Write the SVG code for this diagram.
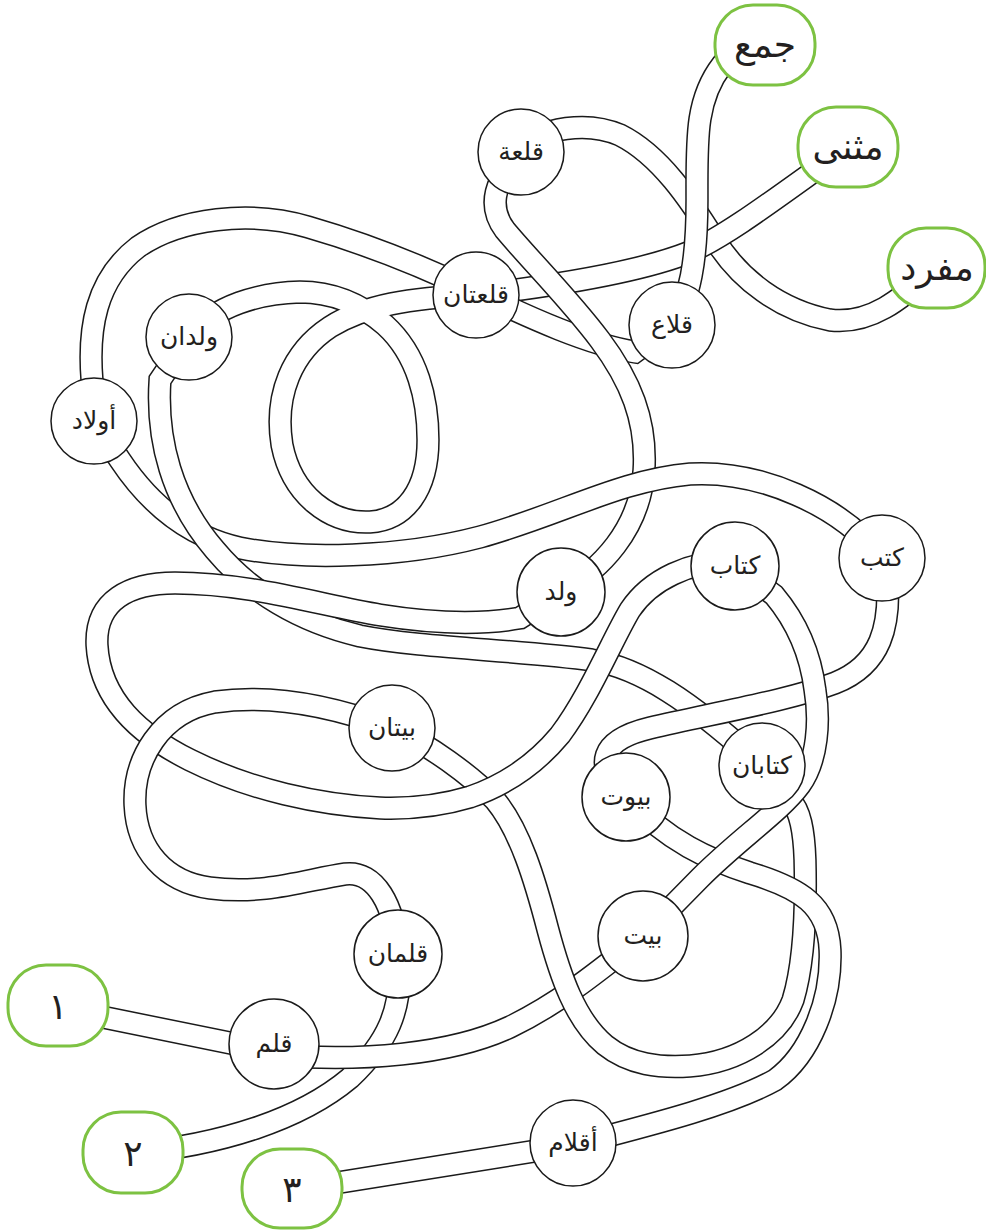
<svg xmlns="http://www.w3.org/2000/svg" xmlns:xlink="http://www.w3.org/1999/xlink" width="986" height="1230" viewBox="0 0 986 1230">
<style>
.o{fill:none;stroke:#1a1a1a;stroke-width:23.5}
.i{fill:none;stroke:#fff;stroke-width:20.5}
.n circle{fill:#fff;stroke:#1a1a1a;stroke-width:1.5}
.n text,.g text{font-family:'DejaVu Sans',sans-serif;font-size:25px;text-anchor:middle;fill:#231f20}
.g rect{fill:#fff;stroke:#7dc242;stroke-width:3}
.g text{font-size:36px}
</style>
<defs>
<path id="S1" d="M58,1008 L274,1052"/>
<path id="S2" d="M274,1055 C360,1062 450,1055 510,1027 C560,1003 600,970 643,936"/>
<path id="S3" d="M643,936 L700,878 C740,838 780,812 800,785 C818,760 820,720 815,690 C810,650 795,620 774,595 L735,566"/>
<path id="S4" d="M735,562 C690,560 650,580 630,610 C612,640 590,695 560,735 C535,765 505,785 470,797 C440,806 410,809 380,808 C320,805 250,790 190,760 C140,735 100,700 97,645 C95,600 130,583 175,583 C250,583 320,605 380,615 C430,623 480,625 520,618 L561,592"/>
<path id="S5" d="M561,592 C600,570 640,530 644,470 C647,420 630,380 600,340 C570,300 530,260 505,230 C490,210 490,185 521,152"/>
<path id="S6" d="M521,152 C540,125 590,122 620,135 C660,155 690,200 715,240 C740,280 780,310 830,320 C870,325 900,300 937,268"/>
<path id="D1" d="M133,1153 C220,1145 300,1120 350,1078 C385,1045 405,1010 398,954"/>
<path id="D2" d="M398,954 C395,905 375,870 345,874 C305,880 265,895 210,888 C165,882 137,850 135,805 C133,760 160,712 215,702 C270,694 330,705 392,728"/>
<path id="D3" d="M392,728 C430,745 470,775 495,800 C520,830 535,880 548,930 C560,975 575,1020 605,1045 C630,1065 660,1068 690,1066 C740,1062 780,1035 793,1000 C805,960 806,900 805,860 C804,830 800,810 790,800 L762,766"/>
<path id="D4" d="M189,337 L160,380 C156,440 172,500 215,550 C250,592 300,622 360,636 C420,648 520,650 592,660 C640,668 690,700 762,766"/>
<path id="D5" d="M189,337 C215,305 260,293 300,292 C335,292 362,305 385,325 C418,355 428,400 428,440 C428,490 405,520 370,522 C330,524 292,495 282,445 C274,395 292,352 330,327 C365,305 410,298 476,295"/>
<path id="D6" d="M476,295 C560,285 640,272 690,252 C730,234 780,195 848,147"/>
<path id="P1" d="M292,1190 L573,1145"/>
<path id="P2" d="M573,1145 C650,1125 730,1105 775,1080 C810,1055 832,1000 830,950 C828,905 800,888 750,873 C710,860 668,842 626,797"/>
<path id="P3" d="M626,797 C592,765 600,740 650,728 C720,712 790,700 835,683 C878,666 895,630 885,558"/>
<path id="P4" d="M882,558 C840,505 760,470 690,474 C620,480 560,515 480,537 C400,558 300,560 240,548 C190,537 150,505 120,460 L94,421"/>
<path id="P5" d="M94,421 L92,380 C88,330 95,280 138,247 C180,218 250,210 308,227 C360,242 420,265 476,292 C530,318 590,345 635,352 L672,325"/>
<path id="P6" d="M672,325 C690,300 697,260 697,200 C697,140 695,100 722,65 L765,45"/>
</defs>
<g id="connectors">
<use href="#S6" class="o"/><use href="#S6" class="i"/>
<use href="#D6" class="o"/><use href="#D6" class="i"/>
<use href="#P5" class="o"/><use href="#P5" class="i"/>
<use href="#S5" class="o"/><use href="#S5" class="i"/>
<use href="#P4" class="o"/><use href="#P4" class="i"/>
<use href="#D4" class="o"/><use href="#D4" class="i"/>
<use href="#D1" class="o"/><use href="#D1" class="i"/>
<use href="#S2" class="o"/><use href="#S2" class="i"/>
<use href="#D3" class="o"/><use href="#D3" class="i"/>
<use href="#S4" class="o"/><use href="#S4" class="i"/>
<use href="#D2" class="o"/><use href="#D2" class="i"/>
<use href="#P3" class="o"/><use href="#P3" class="i"/>
<use href="#P2" class="o"/><use href="#P2" class="i"/>
<use href="#S3" class="o"/><use href="#S3" class="i"/>
<use href="#P6" class="o"/><use href="#P6" class="i"/>
<use href="#S1" class="o"/><use href="#S1" class="i"/>
<use href="#P1" class="o"/><use href="#P1" class="i"/>
<use href="#D5" class="o"/><use href="#D5" class="i"/>
</g>
<g id="n-qalaa" class="n"><circle cx="521" cy="152" r="43"/><text x="521" y="160">قلعة</text></g>
<g id="n-qilaa" class="n"><circle cx="672" cy="325" r="43"/><text x="672" y="333">قلاع</text></g>
<g id="n-qalatan" class="n"><circle cx="476" cy="295" r="43"/><text x="476" y="303">قلعتان</text></g>
<g id="n-waladan" class="n"><circle cx="189" cy="337" r="43"/><text x="189" y="345">ولدان</text></g>
<g id="n-awlad" class="n"><circle cx="94" cy="421" r="43"/><text x="94" y="429">أولاد</text></g>
<g id="n-walad" class="n"><circle cx="561" cy="592" r="44"/><text x="561" y="600">ولد</text></g>
<g id="n-kitab" class="n"><circle cx="735" cy="566" r="44"/><text x="735" y="574">كتاب</text></g>
<g id="n-kutub" class="n"><circle cx="882" cy="558" r="43"/><text x="882" y="566">كتب</text></g>
<g id="n-baytan" class="n"><circle cx="392" cy="728" r="43"/><text x="392" y="736">بيتان</text></g>
<g id="n-kitaban" class="n"><circle cx="762" cy="766" r="43"/><text x="762" y="774">كتابان</text></g>
<g id="n-buyut" class="n"><circle cx="626" cy="797" r="44"/><text x="626" y="805">بيوت</text></g>
<g id="n-bayt" class="n"><circle cx="643" cy="936" r="45"/><text x="643" y="944">بيت</text></g>
<g id="n-qalaman" class="n"><circle cx="398" cy="954" r="44"/><text x="398" y="962">قلمان</text></g>
<g id="n-qalam" class="n"><circle cx="274" cy="1044" r="45"/><text x="274" y="1052">قلم</text></g>
<g id="n-aqlam" class="n"><circle cx="573" cy="1143" r="43"/><text x="573" y="1151">أقلام</text></g>
<g id="n-jam" class="g"><rect x="715" y="5" width="100" height="80" rx="38"/><text x="765" y="57">جمع</text></g>
<g id="n-muthanna" class="g"><rect x="798" y="107" width="100" height="80" rx="38"/><text x="848" y="159">مثنى</text></g>
<g id="n-mufrad" class="g"><rect x="888" y="228" width="97" height="80" rx="38"/><text x="937" y="280">مفرد</text></g>
<g id="n-1" class="g"><rect x="8" y="965" width="100" height="81" rx="38"/><text x="58" y="1019">١</text></g>
<g id="n-2" class="g"><rect x="83" y="1112" width="100" height="81" rx="38"/><text x="133" y="1166">٢</text></g>
<g id="n-3" class="g"><rect x="242" y="1149" width="100" height="79" rx="38"/><text x="292" y="1202">٣</text></g>
</svg>
